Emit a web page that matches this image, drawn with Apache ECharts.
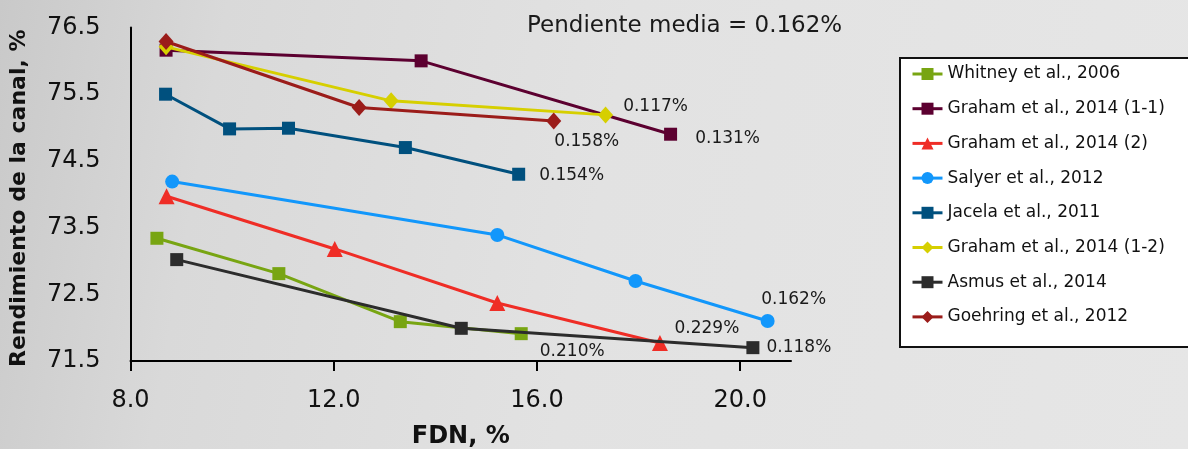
<!DOCTYPE html>
<html>
<head>
<meta charset="utf-8">
<script src="https://cdn.jsdelivr.net/npm/echarts@6/dist/echarts.min.js"></script>
<style>
html,body{margin:0;padding:0;}
body{width:1188px;height:449px;background:linear-gradient(100deg,#c9c9c9 0%,#d9d9d9 18%,#e2e2e2 50%,#e6e6e6 100%);}
#chart{width:1188px;height:449px;}
</style>
</head>
<body>
<div id="chart"></div>
<script>
// ---- Data ----
const seriesNames = [
  'Whitney et al., 2006',
  'Graham et al., 2014 (1-1)',
  'Graham et al., 2014 (2)',
  'Salyer et al., 2012',
  'Jacela et al., 2011',
  'Graham et al., 2014 (1-2)',
  'Asmus et al., 2014',
  'Goehring et al., 2012'
];
const whitney   = [[8.52, 73.34], [10.92, 72.81], [13.31, 72.09], [15.69, 71.91]];
const graham11  = [[8.70, 76.16], [13.72, 76.00], [18.63, 74.90]];
const graham2   = [[8.71, 73.97], [12.02, 73.18], [15.22, 72.37], [18.42, 71.77]];
const salyer    = [[8.82, 74.19], [15.22, 73.39], [17.94, 72.70], [20.54, 72.10]];
const jacela    = [[8.69, 75.50], [9.95, 74.98], [11.11, 74.99], [13.41, 74.70], [15.64, 74.30]];
const graham12  = [[8.70, 76.21], [13.13, 75.40], [17.35, 75.19]];
const asmus     = [[8.91, 73.02], [14.51, 71.99], [20.25, 71.70]];
const goehring  = [[8.70, 76.29], [12.50, 75.30], [16.33, 75.10]];
const slopeLabels = ['0.210%', '0.131%', '0.229%', '0.162%', '0.154%', '0.117%', '0.118%', '0.158%'];
const meanSlopeText = 'Pendiente media = 0.162%';
const xTicks = [8, 12, 16, 20];
const yTicks = [71.5, 72.5, 73.5, 74.5, 75.5, 76.5];

// ---- Styles ----
const allData = [whitney, graham11, graham2, salyer, jacela, graham12, asmus, goehring];
const colors  = ['#78a512', '#5c0030', '#ef2d26', '#1297fb', '#00507e', '#d6cf00', '#2c2c2c', '#9b1c1a'];
const symbols = ['rect', 'rect', 'triangle', 'circle', 'rect', 'diamond', 'rect', 'diamond'];
const symSizes = [13, 13, 16, 14, 13, [15, 17], 13, [15, 17]];
const labelOffsets = [[51, 18], [57, 4], [47, -14], [26, -21], [53, 1], [50, -8], [46, 0], [33, 21]];
const FONT = 'DejaVu Sans';

const series = allData.map((pts, i) => ({
  name: seriesNames[i],
  type: 'line',
  symbol: symbols[i],
  symbolSize: symSizes[i],
  color: colors[i],
  lineStyle: { width: 3, color: colors[i] },
  itemStyle: { color: colors[i] },
  z: 2 + i,
  data: pts.map((p, j) => {
    if (j === pts.length - 1) {
      return {
        value: p,
        label: {
          show: true,
          position: 'inside',
          offset: labelOffsets[i],
          formatter: slopeLabels[i],
          color: '#1a1a1a',
          textBorderWidth: 0,
          fontFamily: FONT,
          fontSize: 17
        }
      };
    }
    return p;
  })
}));

const chart = echarts.init(document.getElementById('chart'), null, { renderer: 'canvas' });
chart.setOption({
  animation: false,
  backgroundColor: 'transparent',
  textStyle: { fontFamily: FONT },
  grid: { left: 130.5, right: 397, top: 27.5, bottom: 88, containLabel: false, outerBoundsMode: 'none' },
  xAxis: {
    type: 'value',
    min: 8, max: 21, interval: 4,
    name: 'FDN, %',
    nameLocation: 'middle',
    nameGap: 64,
    nameTextStyle: { fontFamily: FONT, fontWeight: 'bold', fontSize: 24, color: '#111' },
    axisLine: { show: true, lineStyle: { color: '#000', width: 2 } },
    axisTick: { show: true, length: 10, lineStyle: { color: '#000', width: 2 }, customValues: xTicks },
    axisLabel: { margin: 28, fontSize: 24, color: '#111', fontFamily: FONT, customValues: xTicks,
      formatter: v => v.toFixed(1) },
    splitLine: { show: false }
  },
  yAxis: {
    type: 'value',
    min: 71.5, max: 76.5, interval: 0.5,
    name: 'Rendimiento de la canal, %',
    nameLocation: 'middle',
    nameGap: 100,
    nameTextStyle: { fontFamily: FONT, fontWeight: 'bold', fontSize: 22, color: '#111', padding: [0, 8, 0, 0] },
    axisLine: { show: true, lineStyle: { color: '#000', width: 2 } },
    axisTick: { show: false },
    axisLabel: { margin: 30, fontSize: 24, color: '#111', fontFamily: FONT,
      formatter: v => yTicks.some(t => Math.abs(t - v) < 1e-6) ? v.toFixed(1) : '' },
    splitLine: { show: false }
  },
  legend: {
    orient: 'vertical',
    left: 911, top: 64,
    padding: 0,
    itemWidth: 30, itemHeight: 15,
    itemGap: 14.7,
    lineStyle: { width: 3 },
    textStyle: { fontFamily: FONT, fontSize: 17, color: '#111', lineHeight: 20 },
    data: seriesNames
  },
  graphic: [
    { type: 'rect', left: 899, top: 57, z: -1, silent: true,
      shape: { width: 300, height: 289 },
      style: { fill: '#ffffff', stroke: '#111', lineWidth: 2 } },
    { type: 'text', left: 527, top: 15, silent: true,
      style: { text: meanSlopeText, fontFamily: FONT, fontSize: 23, fill: '#1a1a1a' } }
  ],
  series: series
});
</script>
</body>
</html>
